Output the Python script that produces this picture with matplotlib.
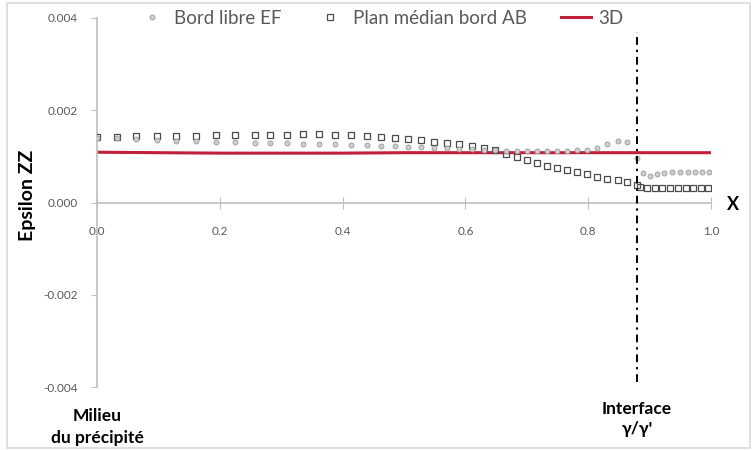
import numpy as np
import matplotlib
matplotlib.use("Agg")
import matplotlib.pyplot as plt
from matplotlib.patches import Rectangle

plt.rcParams['font.family'] = ['Lato', 'DejaVu Sans']

# =============================================================================
# DONNÉES
# =============================================================================
x_ef = [0.000, 0.032, 0.064, 0.097, 0.129, 0.161, 0.193, 0.225, 0.257,
        0.282, 0.309, 0.336, 0.362, 0.388, 0.414, 0.439, 0.463, 0.485, 0.507,
        0.528, 0.549, 0.570, 0.590, 0.610, 0.630, 0.648, 0.666, 0.684, 0.700,
        0.717, 0.733, 0.749, 0.765, 0.782, 0.798, 0.814, 0.831, 0.848, 0.864,
        0.879,
        0.889, 0.900, 0.912, 0.924, 0.937, 0.949, 0.962, 0.974, 0.986, 0.997]
eps_ef = [0.00140, 0.00139, 0.00138, 0.00136, 0.00134, 0.00133, 0.00132, 0.00131, 0.00130,
          0.00129, 0.00128, 0.00127, 0.00126, 0.00126, 0.00125, 0.00124, 0.00123, 0.00122, 0.00121,
          0.00120, 0.00119, 0.00118, 0.00117, 0.00116, 0.00114, 0.00113, 0.00112, 0.00112, 0.00111,
          0.00111, 0.00111, 0.00112, 0.00112, 0.00113, 0.00114, 0.00118, 0.00126, 0.00133, 0.00131,
          0.00096,
          0.00063, 0.00058, 0.00062, 0.00065, 0.00066, 0.00066, 0.00066, 0.00066, 0.00066, 0.00066]

x_ab = [0.000, 0.032, 0.064, 0.097, 0.129, 0.161, 0.193, 0.225, 0.257,
        0.282, 0.309, 0.336, 0.362, 0.388, 0.414, 0.439, 0.463, 0.485, 0.507,
        0.528, 0.549, 0.570, 0.590, 0.610, 0.630, 0.648, 0.666, 0.684, 0.700,
        0.717, 0.733, 0.749, 0.765, 0.782, 0.798, 0.814, 0.831, 0.848, 0.864,
        0.879,
        0.884, 0.896, 0.909, 0.921, 0.934, 0.946, 0.959, 0.971, 0.984, 0.995]
eps_ab = [0.00143, 0.00143, 0.00144, 0.00145, 0.00145, 0.00145, 0.00146, 0.00146, 0.00146,
          0.00147, 0.00147, 0.00148, 0.00148, 0.00147, 0.00146, 0.00144, 0.00142, 0.00140, 0.00137,
          0.00135, 0.00132, 0.00129, 0.00126, 0.00122, 0.00118, 0.00113, 0.00106, 0.00099, 0.00092,
          0.00085, 0.00080, 0.00075, 0.00071, 0.00066, 0.00061, 0.00056, 0.00052, 0.00048, 0.00044,
          0.00038,
          0.00033, 0.00031, 0.00031, 0.00031, 0.00031, 0.00031, 0.00031, 0.00031, 0.00031, 0.00031]

x_3d = [0.0, 0.1, 0.2, 0.3, 0.4, 0.5, 0.6, 0.7, 0.8, 0.879, 0.9, 1.0]
eps_3d = [0.00109, 0.00108, 0.00107, 0.00107, 0.00107, 0.00108, 0.00108, 0.00108,
          0.00108, 0.00108, 0.00108, 0.00108]

X_INTERFACE = 0.879
x_ticks = [0.0, 0.2, 0.4, 0.6, 0.8, 1.0]
y_ticks = [-0.004, -0.002, 0.000, 0.002, 0.004]

GREY_TXT = '#595959'
AXIS_COL = '#BFBFBF'

# =============================================================================
# FIGURE
# =============================================================================
W, H = 754, 450
fig = plt.figure(figsize=(W / 100, H / 100), dpi=100)
ax = fig.add_axes([97 / W, (H - 387) / H, 614 / W, 369 / H])

ax.plot(x_3d, eps_3d, '-', color='#C0203A', lw=2.2, label='3D', zorder=2)
ax.plot(x_ab, eps_ab, 's', ms=5, mfc='none', mec='#4A4A4A', mew=0.9,
        label='Plan médian bord AB', zorder=3)
ax.plot(x_ef, eps_ef, 'o', ms=3.5, mfc='#CFCFCF', mec='#A0A0A0', mew=0.7,
        label='Bord libre EF', zorder=4)

ax.plot([X_INTERFACE, X_INTERFACE], [-0.0039, 0.0037], color='black', lw=1.4,
        ls=(0, (4, 2.5, 1.2, 2.5)), zorder=5)

ax.set_xlim(0, 1.0)
ax.set_ylim(-0.004, 0.004)
ax.set_xticks(x_ticks)
ax.set_xticklabels([f'{v:.1f}' for v in x_ticks])
ax.set_yticks(y_ticks)
ax.set_yticklabels([f'{v:.3f}' for v in y_ticks])

for s in ['top', 'right']:
    ax.spines[s].set_visible(False)
ax.spines['bottom'].set_position(('data', 0))
for s in ['left', 'bottom']:
    ax.spines[s].set_color(AXIS_COL)
    ax.spines[s].set_linewidth(1.2)

ax.tick_params(axis='x', direction='inout', length=8, color=AXIS_COL,
               labelsize=8.5, labelcolor=GREY_TXT, pad=13)
ax.tick_params(axis='y', direction='out', length=4, color=AXIS_COL,
               labelsize=8.5, labelcolor=GREY_TXT, pad=10)

ax.set_facecolor('none')

# Légende
handles, labels = ax.get_legend_handles_labels()
order = [2, 1, 0]
fig.legend([handles[i] for i in order], [labels[i] for i in order],
           loc='center', bbox_to_anchor=(380 / W, 1 - 18 / H), ncol=3,
           frameon=False, fontsize=13.5, labelcolor=GREY_TXT, handlelength=1.6,
           handletextpad=0.4, columnspacing=1.8)

# Textes
fig.text(28 / W, 1 - 195 / H, 'Epsilon ZZ', rotation=90, ha='center', va='center',
         fontsize=14, fontweight='bold', color='black')
fig.text(733 / W, 1 - 204 / H, 'X', ha='center', va='center',
         fontsize=13, fontweight='bold', color='black')
fig.text(97 / W, 1 - 427 / H, 'Milieu\ndu précipité', ha='center', va='center',
         fontsize=12.5, fontweight='bold', color='black', linespacing=1.5)
fig.text(637 / W, 1 - 419 / H, "Interface\nγ/γ'", ha='center', va='center',
         fontsize=12.5, fontweight='bold', color='black', linespacing=1.3)

# Cadre du graphique
fig.patches.append(Rectangle((7 / W, 2 / H), 743 / W, 445 / H, transform=fig.transFigure,
                             fill=False, edgecolor='#D9D9D9', lw=1.2))

fig.savefig('out.png', dpi=100)
